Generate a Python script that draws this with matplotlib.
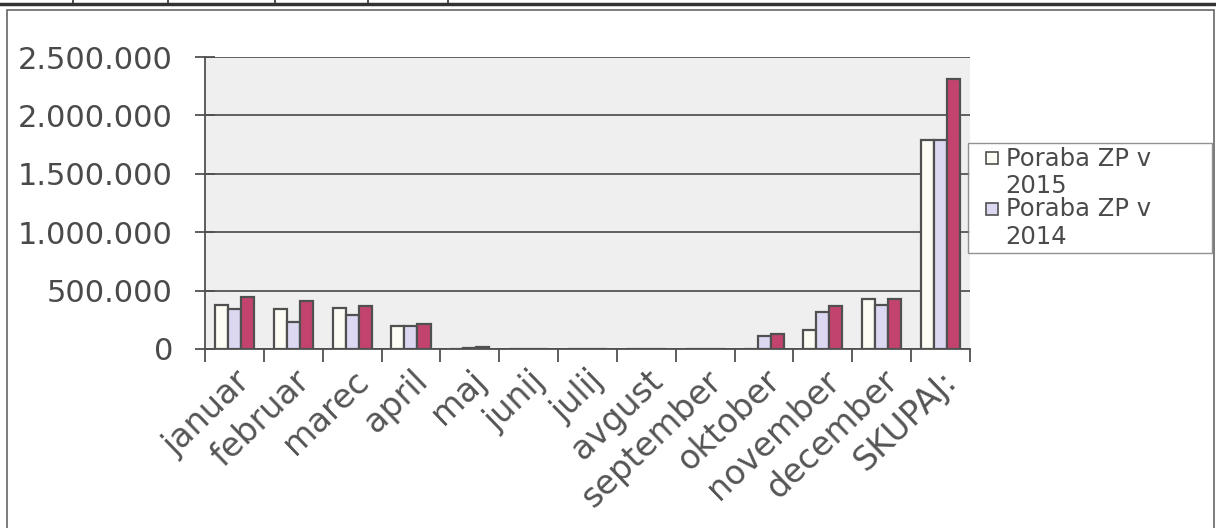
import numpy as np
import matplotlib
matplotlib.use("Agg")
import matplotlib.pyplot as plt
from matplotlib.patches import Rectangle
from matplotlib.lines import Line2D
from matplotlib.ticker import FuncFormatter

# data
months = ["januar", "februar", "marec", "april", "maj", "junij", "julij",
          "avgust", "september", "oktober", "november", "december", "SKUPAJ:"]
poraba_2015 = [373000, 339000, 347000, 195000, 0, 0, 0, 0, 0, 0, 161000, 424000, 1790000]
poraba_2014 = [339000, 229000, 288000, 195000, 12000, 0, 0, 0, 0, 110000, 314000, 373000, 1790000]
poraba_3 = [441000, 415000, 364000, 212000, 20000, 0, 0, 0, 0, 127000, 364000, 432000, 2310000]
legend_labels = ["Poraba ZP v\n2015", "Poraba ZP v\n2014"]

# the scan is a bit stretched sideways, DejaVu's wide glyphs fit it best
plt.rcParams['font.family'] = ['DejaVu Sans']
txt = '#4a4a4a'
edge = '#505050'
c15, c14, c3 = '#fcfcf4', '#dcd8f2', '#c2446e'


class TopSquare:
    # legend key as a small square next to the first line of a two-line label
    def legend_artist(self, legend, orig_handle, fontsize, handlebox):
        s = 0.5 * fontsize
        p = Rectangle((handlebox.xdescent + 0.6 * fontsize, handlebox.ydescent + 0.8 * fontsize), s, s,
                      facecolor=orig_handle, edgecolor=edge, linewidth=1.2,
                      transform=handlebox.get_transform())
        handlebox.add_artist(p)
        return p


fig = plt.figure(figsize=(12.16, 5.28), dpi=100)
ax = fig.add_axes([205 / 1216, 1 - 349 / 528, 765 / 1216, 292 / 528])
ax.set_facecolor('#efefef')

x = np.arange(len(months))
w = 0.222
ax.bar(x - w, poraba_2015, w, color=c15, edgecolor=edge, linewidth=1.6, zorder=3)
ax.bar(x, poraba_2014, w, color=c14, edgecolor=edge, linewidth=1.6, zorder=3)
ax.bar(x + w, poraba_3, w, color=c3, edgecolor=edge, linewidth=1.6, zorder=3)

ax.set_xlim(-0.5, len(months) - 0.5)
ax.set_ylim(0, 2500000)
ax.set_yticks(np.arange(0, 2500001, 500000))
ax.yaxis.set_major_formatter(FuncFormatter(lambda v, p: f"{int(v):,}".replace(",", ".")))
ax.grid(axis='y', color='#555555', linewidth=1.3, zorder=1)

ax.set_xticks(x)
ax.set_xticklabels(months, rotation=44, ha='right', rotation_mode='anchor')
ax.set_xticks(np.arange(-0.5, len(months)), minor=True)
ax.tick_params(axis='x', which='major', length=0, pad=11, labelsize=24, labelcolor='#555555')
ax.tick_params(axis='x', which='minor', length=9, width=1.3, color=edge, direction='out')
ax.tick_params(axis='y', length=14, width=1.3, color=edge, direction='inout', pad=16,
               labelsize=22, labelcolor=txt)

for s in ['top', 'right']:
    ax.spines[s].set_visible(False)
for s in ['left', 'bottom']:
    ax.spines[s].set_color(edge)
    ax.spines[s].set_linewidth(1.3)

leg = fig.legend([c15, c14], legend_labels, handler_map={str: TopSquare()},
                 loc='upper left', mode='expand',
                 bbox_to_anchor=(968 / 1216, (528 - 252) / 528, 244 / 1216, 109 / 528),
                 fontsize=17.5, frameon=True, fancybox=False, handlelength=1.2,
                 handleheight=0.5, handletextpad=0.2, borderpad=0.15,
                 labelspacing=-0.05, borderaxespad=0)
leg.get_frame().set_edgecolor('#777777')
leg.get_frame().set_linewidth(1.0)
for t in leg.get_texts():
    t.set_color(txt)
    t.set_linespacing(1.2)

# chart frame and the table border above it
fig.add_artist(Rectangle((7 / 1216, -0.02), 1207 / 1216, 1.02 - 10 / 528, fill=False,
                         edgecolor='#666666', linewidth=1.2, transform=fig.transFigure))
fig.add_artist(Line2D([0, 1], [1 - 4 / 528, 1 - 4 / 528], color='#333333', linewidth=2.5,
                      transform=fig.transFigure))
for px in [73, 168, 275, 368, 448]:
    fig.add_artist(Line2D([px / 1216, px / 1216], [1 - 4 / 528, 1], color='#333333',
                          linewidth=1.2, transform=fig.transFigure))

fig.savefig('out.png', dpi=100)
